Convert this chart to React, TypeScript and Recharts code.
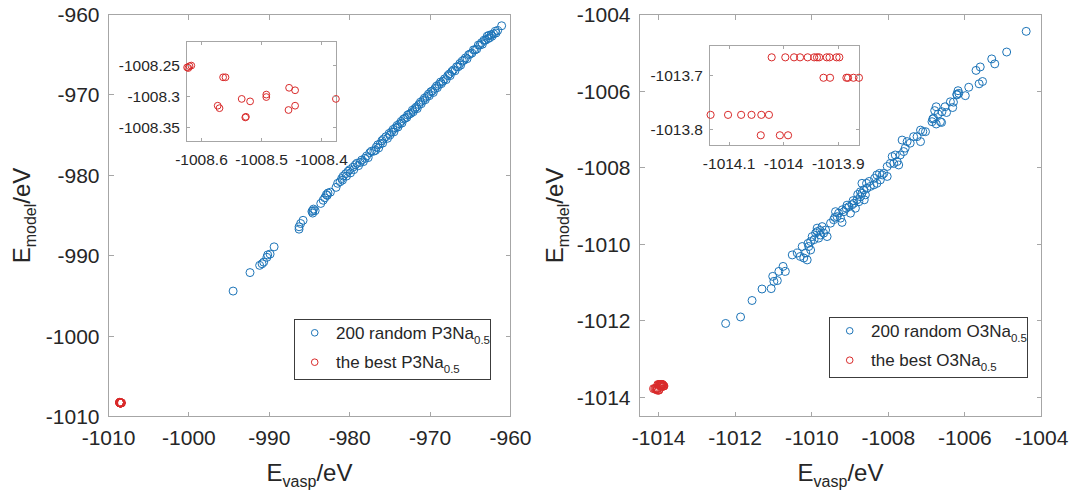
import React from 'react';
import { ScatterChart, Scatter, XAxis, YAxis, Legend, ReferenceArea } from 'recharts';

type Pt = [number, number];

// ---------- data (E_vasp, E_model) in eV ----------
const p3Random: Pt[] = [
  [-994.5, -994.4], [-992.4, -992.1], [-991.2, -991.2], [-990.9, -991.0], [-990.7, -990.8], [-990.3, -990.2],
  [-990.2, -989.9], [-989.9, -989.8], [-989.4, -988.9],
  [-986.3, -986.4], [-986.3, -986.7], [-986.1, -986.0], [-985.8, -985.6],
  [-984.7, -984.5], [-984.6, -984.7], [-984.5, -984.2], [-984.3, -984.4], [-984.6, -984.4],
  [-983.6, -983.5], [-983.3, -983.1], [-983.1, -982.8], [-982.9, -982.4], [-982.7, -982.2], [-982.4, -982.1], [-982.8, -982.5],
  [-981.7, -981.5], [-981.5, -981.0], [-981.2, -980.8], [-981.0, -980.4], [-980.8, -980.1], [-980.9, -980.6], [-980.5, -979.8],
  [-980.4, -980.1], [-980.2, -979.5], [-980.0, -979.3], [-979.9, -979.7], [-979.6, -979.0], [-979.5, -979.3], [-979.3, -978.7],
  [-979.1, -978.5], [-978.9, -978.8], [-978.7, -978.4], [-978.5, -978.1], [-978.3, -978.3], [-978.1, -977.9], [-977.9, -977.6],
  [-977.7, -977.8], [-977.5, -977.2], [-977.3, -977.0], [-977.0, -977.0], [-976.8, -976.9], [-976.7, -976.5],
  [-976.5, -976.2], [-976.4, -976.6], [-976.2, -976.1], [-976.0, -975.7], [-975.9, -976.0], [-975.8, -975.5], [-975.5, -975.2],
  [-975.3, -975.4], [-975.1, -974.8], [-975.0, -975.0], [-974.8, -974.6], [-974.6, -974.3], [-974.5, -974.6], [-974.3, -974.1],
  [-974.1, -973.8], [-974.0, -974.0], [-973.8, -973.6], [-973.6, -973.3], [-973.5, -973.5], [-973.3, -973.0], [-973.1, -972.9],
  [-972.9, -972.8], [-972.8, -972.5], [-972.6, -972.4], [-972.4, -972.3], [-972.2, -971.9], [-972.1, -972.1], [-971.9, -971.7],
  [-971.7, -971.5], [-971.6, -971.7], [-971.4, -971.2], [-971.2, -970.9], [-971.1, -971.1], [-970.9, -970.7], [-970.7, -970.4],
  [-970.6, -970.6], [-970.4, -970.2], [-970.2, -969.9], [-970.1, -970.1], [-969.9, -969.6], [-969.7, -969.5], [-969.6, -969.7],
  [-969.4, -969.2], [-969.2, -968.9], [-969.1, -969.1], [-968.9, -968.7], [-968.7, -968.4], [-968.6, -968.6], [-968.4, -968.3],
  [-968.2, -968.0], [-968.0, -968.1], [-967.8, -967.6], [-967.6, -967.4], [-967.5, -967.6], [-967.3, -967.1], [-967.1, -966.9],
  [-966.9, -967.0], [-966.7, -966.5], [-966.5, -966.5], [-966.3, -966.1], [-966.2, -966.3], [-966.0, -965.8], [-965.8, -965.7],
  [-965.6, -965.4], [-965.4, -965.5], [-965.2, -965.0], [-965.0, -964.9], [-964.8, -964.8], [-964.6, -964.4], [-964.4, -964.4],
  [-964.2, -964.3], [-964.0, -963.8], [-963.8, -963.8], [-963.6, -963.5], [-963.5, -963.7], [-963.3, -963.2], [-963.1, -963.2],
  [-962.9, -962.7], [-962.8, -963.0], [-962.7, -962.6], [-962.6, -962.9], [-962.4, -962.5], [-962.3, -962.7], [-962.1, -962.4],
  [-961.9, -962.1], [-961.8, -962.3], [-961.6, -962.0], [-961.1, -961.4],
];

const p3Best: Pt[] = [
  [-1008.624, -1008.253], [-1008.62, -1008.251], [-1008.617, -1008.25], [-1008.622, -1008.254],
  [-1008.564, -1008.269], [-1008.56, -1008.269],
  [-1008.573, -1008.315], [-1008.57, -1008.319],
  [-1008.533, -1008.304], [-1008.519, -1008.308],
  [-1008.527, -1008.334], [-1008.526, -1008.333],
  [-1008.492, -1008.297], [-1008.492, -1008.301],
  [-1008.454, -1008.286], [-1008.444, -1008.29],
  [-1008.455, -1008.322], [-1008.444, -1008.315],
  [-1008.376, -1008.304],
];

const o3Random: Pt[] = [
  [-1004.4, -1004.44], [-1004.91, -1004.98], [-1005.22, -1005.29], [-1005.3, -1005.16], [-1005.6, -1005.37],
  [-1005.71, -1005.46], [-1005.54, -1005.75], [-1005.63, -1005.81], [-1005.9, -1005.9], [-1006.18, -1005.99],
  [-1006.21, -1006.08], [-1005.99, -1006.12], [-1006.32, -1006.43], [-1006.52, -1006.41], [-1006.3, -1006.29],
  [-1006.48, -1006.56], [-1006.75, -1006.41], [-1006.79, -1006.51], [-1006.7, -1006.6], [-1006.84, -1006.73],
  [-1006.75, -1006.86], [-1006.61, -1006.82], [-1006.38, -1006.28], [-1006.64, -1006.8], [-1006.82, -1006.71],
  [-1006.86, -1006.8], [-1006.6, -1006.54], [-1006.21, -1006.1], [-1006.16, -1006.06],
  [-1007.16, -1007.02], [-1007.1, -1007.06], [-1007.03, -1007.06], [-1007.16, -1007.32], [-1007.34, -1007.19],
  [-1007.25, -1007.19], [-1007.43, -1007.36], [-1007.51, -1007.32], [-1007.64, -1007.28], [-1007.56, -1007.49],
  [-1007.6, -1007.58], [-1007.69, -1007.67], [-1007.82, -1007.67], [-1007.9, -1007.71], [-1007.77, -1007.84],
  [-1007.73, -1007.93], [-1007.86, -1007.89], [-1007.95, -1007.89], [-1008.03, -1007.97], [-1008.03, -1008.23],
  [-1008.12, -1008.15], [-1008.23, -1008.15], [-1008.3, -1008.19], [-1008.16, -1008.19], [-1008.21, -1008.32],
  [-1008.3, -1008.41], [-1008.38, -1008.45], [-1008.47, -1008.49], [-1008.57, -1008.41], [-1008.69, -1008.41],
  [-1008.64, -1008.58], [-1008.56, -1008.54], [-1008.73, -1008.63], [-1008.69, -1008.67], [-1008.6, -1008.71],
  [-1008.73, -1008.76], [-1008.82, -1008.84], [-1008.63, -1008.84], [-1008.77, -1008.89], [-1008.9, -1008.93],
  [-1008.95, -1008.97], [-1009.03, -1009.02], [-1009.1, -1009.06], [-1008.86, -1009.06], [-1009.16, -1009.15],
  [-1009.38, -1009.15], [-1009.3, -1009.19], [-1008.99, -1009.19], [-1009.25, -1009.32], [-1009.34, -1009.28],
  [-1009.43, -1009.36], [-1009.51, -1009.45], [-1009.21, -1009.43], [-1009.64, -1009.63], [-1009.73, -1009.54],
  [-1009.86, -1009.58], [-1009.6, -1009.8], [-1009.82, -1009.84], [-1009.69, -1009.71], [-1009.77, -1009.76],
  [-1009.86, -1009.67], [-1009.9, -1009.71], [-1009.99, -1009.8], [-1010.03, -1009.93], [-1010.03, -1010.15],
  [-1010.08, -1010.06], [-1010.25, -1010.06], [-1010.16, -1010.23], [-1010.12, -1010.41], [-1010.21, -1010.36],
  [-1010.3, -1010.32], [-1010.38, -1010.23], [-1010.51, -1010.28], [-1010.69, -1010.71], [-1010.75, -1010.58],
  [-1010.86, -1010.71], [-1011.02, -1010.84], [-1010.9, -1010.95], [-1010.99, -1010.97], [-1011.06, -1011.16],
  [-1011.3, -1011.17], [-1011.56, -1011.47], [-1011.86, -1011.9], [-1012.25, -1012.07],
  [-1009.08, -1008.98], [-1009.2, -1009.1], [-1008.92, -1008.86], [-1008.8, -1008.7], [-1009.4, -1009.3],
  [-1009.94, -1009.88], [-1010.1, -1009.98], [-1009.78, -1009.64], [-1008.5, -1008.36], [-1008.36, -1008.28],
];

const o3Best: Pt[] = [
  [-1014.022, -1013.666], [-1013.997, -1013.666], [-1013.981, -1013.666], [-1013.97, -1013.666],
  [-1013.956, -1013.666], [-1013.944, -1013.666], [-1013.939, -1013.666], [-1013.935, -1013.666],
  [-1013.921, -1013.666], [-1013.916, -1013.666], [-1013.903, -1013.666], [-1013.898, -1013.666],
  [-1013.927, -1013.704], [-1013.915, -1013.704], [-1013.885, -1013.704], [-1013.882, -1013.704],
  [-1013.872, -1013.704], [-1013.862, -1013.704],
  [-1014.134, -1013.773], [-1014.102, -1013.773], [-1014.078, -1013.773], [-1014.059, -1013.773],
  [-1014.041, -1013.773], [-1014.027, -1013.773],
  [-1014.042, -1013.811], [-1014.007, -1013.811], [-1013.992, -1013.811],
];

// ---------- ticks, domains, labels ----------
const p3Ticks = [-1010, -1000, -990, -980, -970, -960];
const p3Domain: [number, number] = [-1010, -960];
const o3Ticks = [-1014, -1012, -1010, -1008, -1006, -1004];
const o3Domain: [number, number] = [-1014.5, -1004];
const p3InsetXTicks = [-1008.6, -1008.5, -1008.4];
const p3InsetYTicks = [-1008.35, -1008.3, -1008.25];
const p3InsetXDomain: [number, number] = [-1008.625, -1008.375];
const p3InsetYDomain: [number, number] = [-1008.373, -1008.211];
const o3InsetXTicks = [-1014.1, -1014, -1013.9];
const o3InsetYTicks = [-1013.8, -1013.7];
const o3InsetXDomain: [number, number] = [-1014.136, -1013.861];
const o3InsetYDomain: [number, number] = [-1013.83, -1013.644];
const p3LegendLabels = ['200 random P3Na', 'the best P3Na'];
const o3LegendLabels = ['200 random O3Na', 'the best O3Na'];
const legendSub = '0.5';

// ---------- style ----------
const FONT = '"Liberation Sans", Arial, Helvetica, sans-serif';
const INK = '#262626';
const FRAME = '#a6a6a6';
const BLUE = '#1c74b8';
const RED = '#d92a2a';

const rows = (pts: Pt[]) => pts.map(([x, y]) => ({ x, y }));

type TickOpts = { len: number; fontSize: number; gap: number; baseX: number; baseY: number };

// ticks drawn inward on both the near and the opposite frame edge
const makeTick = (side: 'bottom' | 'left', o: TickOpts, span: number) => (props: any) => {
  const { x, y, payload } = props;
  const txt = String(payload.value);
  const common = { fill: INK, fontSize: o.fontSize, fontFamily: FONT };
  const ln = { stroke: FRAME, strokeWidth: 1, shapeRendering: 'crispEdges' as const };
  if (side === 'bottom') {
    return (
      <g>
        <line x1={x} y1={y} x2={x} y2={y - o.len} {...ln} />
        <line x1={x} y1={y - span} x2={x} y2={y - span + o.len} {...ln} />
        <text x={x} y={y + o.baseX} textAnchor="middle" {...common}>{txt}</text>
      </g>
    );
  }
  return (
    <g>
      <line x1={x} y1={y} x2={x + o.len} y2={y} {...ln} />
      <line x1={x + span} y1={y} x2={x + span - o.len} y2={y} {...ln} />
      <text x={x - o.gap} y={y + o.baseY} textAnchor="end" {...common}>{txt}</text>
    </g>
  );
};

const ring = (r: number, color: string, sw: number) => (props: any) => (
  <circle cx={props.cx} cy={props.cy} r={r} fill="none" stroke={color} strokeWidth={sw} />
);

type AxesCfg = {
  xDomain: [number, number];
  yDomain: [number, number];
  xTicks: number[];
  yTicks: number[];
  xHeight: number;
  yWidth: number;
  plotW: number;
  plotH: number;
  tick: TickOpts;
  xLabel?: any;
  yLabel?: any;
};

function renderAxes(c: AxesCfg) {
  return [
    <XAxis key="xb" type="number" dataKey="x" domain={c.xDomain} ticks={c.xTicks} interval={0}
      height={c.xHeight} tickSize={0} tickMargin={0} tickLine={false} axisLine={false}
      tick={makeTick('bottom', c.tick, c.plotH)} label={c.xLabel} />,
    <YAxis key="yl" type="number" dataKey="y" domain={c.yDomain} ticks={c.yTicks} interval={0}
      width={c.yWidth} tickSize={0} tickMargin={0} tickLine={false} axisLine={false}
      tick={makeTick('left', c.tick, c.plotW)} label={c.yLabel} />,
    <ReferenceArea key="box" x1={c.xDomain[0]} x2={c.xDomain[1]} y1={c.yDomain[0]} y2={c.yDomain[1]}
      fill="none" fillOpacity={0} stroke={FRAME} strokeWidth={1} strokeOpacity={1} shapeRendering="crispEdges" />,
  ];
}

const xTitle = (props: any) => {
  const vb = props.viewBox;
  return (
    <text x={vb.x + vb.width / 2} y={vb.y + 64} textAnchor="middle" fill={INK} fontFamily={FONT} fontSize={24}>
      E<tspan fontSize={16} dy={6.5}>vasp</tspan><tspan dy={-6.5}>/eV</tspan>
    </text>
  );
};

const yTitle = (props: any) => {
  const vb = props.viewBox;
  const cx = vb.x + 29.5;
  const cy = vb.y + vb.height / 2;
  return (
    <text x={cx} y={cy} textAnchor="middle" transform={`rotate(-90 ${cx} ${cy})`} fill={INK} fontFamily={FONT} fontSize={24}>
      E<tspan fontSize={16} dy={6.5}>model</tspan><tspan dy={-6.5}>/eV</tspan>
    </text>
  );
};

function LegendBox({ labels, width }: { labels: string[]; width: number }) {
  const t = { fill: INK, fontFamily: FONT, fontSize: 17 };
  return (
    <svg width={width} height={61} style={{ display: 'block' }}>
      <rect x={0.5} y={0.5} width={width - 1} height={60} fill="#fff" stroke="#3c3c3c" strokeWidth={1} />
      <circle cx={20.7} cy={13.8} r={3.3} fill="none" stroke={BLUE} strokeWidth={1} />
      <text x={42} y={19.8} {...t}>{labels[0]}<tspan fontSize={11.5} dy={5}>{legendSub}</tspan></text>
      <circle cx={20.7} cy={43.2} r={3.3} fill="none" stroke={RED} strokeWidth={1} />
      <text x={42} y={49.2} {...t}>{labels[1]}<tspan fontSize={11.5} dy={5}>{legendSub}</tspan></text>
    </svg>
  );
}

const mainTick: TickOpts = { len: 5, fontSize: 21, gap: 9, baseX: 28.3, baseY: 7.5 };
const insetTick: TickOpts = { len: 3.5, fontSize: 15.5, gap: 6.5, baseX: 23, baseY: 5.5 };

export default function App() {
  return (
    <div style={{ position: 'absolute', left: 0, top: 0, width: 1073, height: 495, background: '#fff', fontFamily: FONT }}>
      {/* left main panel */}
      <div style={{ position: 'absolute', left: 0, top: 0 }}>
        <ScatterChart width={540} height={495} margin={{ top: 14.5, right: 29.5, bottom: 0, left: 0 }}>
          {renderAxes({
            xDomain: p3Domain, yDomain: p3Domain, xTicks: p3Ticks, yTicks: p3Ticks,
            xHeight: 78.5, yWidth: 108.5, plotW: 402, plotH: 402, tick: mainTick,
            xLabel: { content: xTitle }, yLabel: { content: yTitle },
          })}
          <Scatter data={rows(p3Random)} shape={ring(4, BLUE, 1)} isAnimationActive={false} />
          <Scatter data={rows(p3Best)} shape={ring(4, RED, 1)} isAnimationActive={false} />
          <Legend layout="horizontal" verticalAlign="middle" align="center"
            wrapperStyle={{ left: 293.7, top: 318.8, width: 197, height: 61 }}
            content={() => <LegendBox labels={p3LegendLabels} width={197} />} />
        </ScatterChart>
      </div>

      {/* right main panel */}
      <div style={{ position: 'absolute', left: 533, top: 0 }}>
        <ScatterChart width={540} height={495} margin={{ top: 14.5, right: 31.5, bottom: 0, left: 0 }}>
          {renderAxes({
            xDomain: o3Domain, yDomain: o3Domain, xTicks: o3Ticks, yTicks: o3Ticks,
            xHeight: 78.5, yWidth: 106.5, plotW: 402, plotH: 402, tick: mainTick,
            xLabel: { content: xTitle }, yLabel: { content: yTitle },
          })}
          <Scatter data={rows(o3Random)} shape={ring(4, BLUE, 1)} isAnimationActive={false} />
          <Scatter data={rows(o3Best)} shape={ring(4, RED, 1)} isAnimationActive={false} />
          <Legend layout="horizontal" verticalAlign="middle" align="center"
            wrapperStyle={{ left: 295.5, top: 316.8, width: 199, height: 61 }}
            content={() => <LegendBox labels={o3LegendLabels} width={199} />} />
        </ScatterChart>
      </div>

      {/* left inset */}
      <div style={{ position: 'absolute', left: 110, top: 30 }}>
        <ScatterChart width={250} height={145} margin={{ top: 11.5, right: 23.5, bottom: 0, left: 0 }}>
          {renderAxes({
            xDomain: p3InsetXDomain, yDomain: p3InsetYDomain, xTicks: p3InsetXTicks, yTicks: p3InsetYTicks,
            xHeight: 33.5, yWidth: 76.5, plotW: 150, plotH: 100, tick: insetTick,
          })}
          <Scatter data={rows(p3Best)} shape={ring(3.4, RED, 1)} isAnimationActive={false} />
        </ScatterChart>
      </div>

      {/* right inset */}
      <div style={{ position: 'absolute', left: 630, top: 34 }}>
        <ScatterChart width={250} height={150} margin={{ top: 11.5, right: 20.5, bottom: 0, left: 0 }}>
          {renderAxes({
            xDomain: o3InsetXDomain, yDomain: o3InsetYDomain, xTicks: o3InsetXTicks, yTicks: o3InsetYTicks,
            xHeight: 38.5, yWidth: 79.5, plotW: 150, plotH: 100, tick: insetTick,
          })}
          <Scatter data={rows(o3Best)} shape={ring(3.6, RED, 1)} isAnimationActive={false} />
        </ScatterChart>
      </div>
    </div>
  );
}
